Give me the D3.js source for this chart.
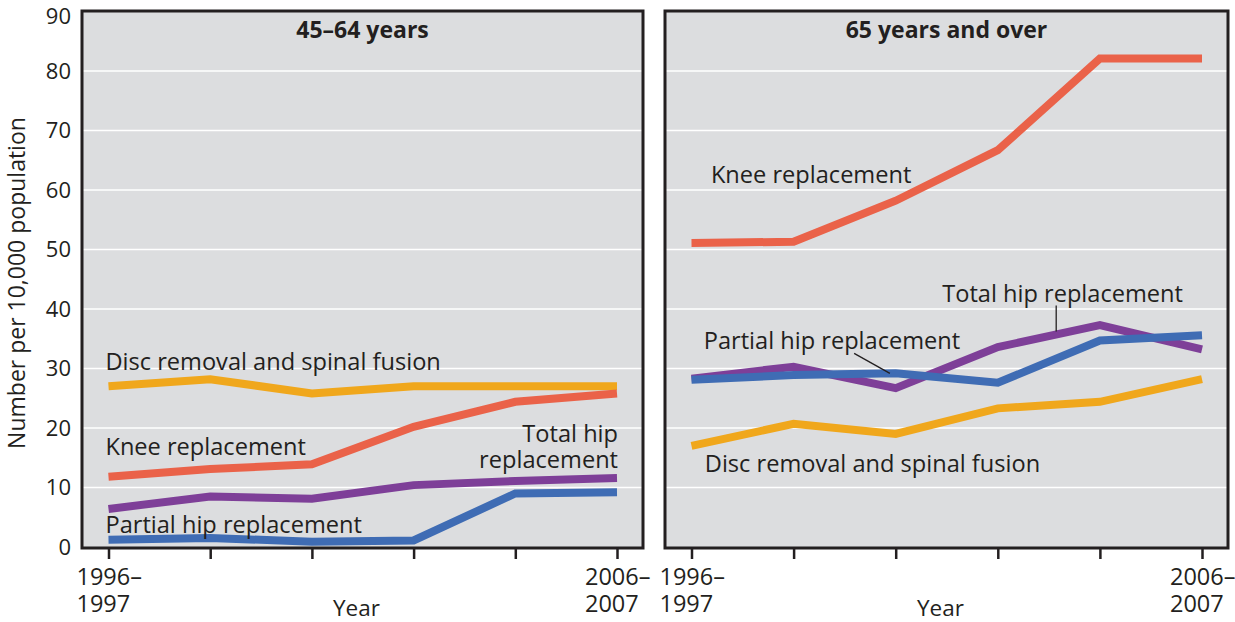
<!DOCTYPE html>
<html>
<head>
<meta charset="utf-8">
<script src="https://cdn.jsdelivr.net/npm/d3@7"></script>
<style>
  body { margin: 0; background: #fff; }
  svg { display: block; font-family: "Open Sans", sans-serif; }
</style>
</head>
<body>
<div id="chart"></div>
<script>
// Zeitraeume (x-Achse)
const periods = ["1996–1997", "", "", "", "", "2006–2007"];
const yTicks = [0, 10, 20, 30, 40, 50, 60, 70, 80, 90];

// 45-64 Jahre
const young_disc    = [27.0, 28.2, 25.8, 27.0, 27.0, 27.0];
const young_knee    = [11.8, 13.1, 13.9, 20.2, 24.4, 25.8];
const young_total   = [6.4, 8.5, 8.1, 10.4, 11.1, 11.6];
const young_partial = [1.2, 1.5, 0.9, 1.1, 9.0, 9.2];

// 65 Jahre und aelter
const old_disc    = [17.0, 20.7, 19.0, 23.3, 24.4, 28.2];
const old_knee    = [51.1, 51.3, 58.2, 66.7, 82.1, 82.1];
const old_total   = [28.3, 30.3, 26.7, 33.6, 37.3, 33.2];
const old_partial = [28.1, 28.9, 29.2, 27.6, 34.7, 35.6];

const colors = {
  disc: "#f0a71c",
  knee: "#ea6249",
  total: "#7e3f98",
  partial: "#3f6cb4"
};

const width = 1235;
const height = 622;

const panels = [
  {
    title: "45–64 years",
    left: 82, right: 643,
    series: [
      {key: "disc", values: young_disc},
      {key: "knee", values: young_knee},
      {key: "total", values: young_total},
      {key: "partial", values: young_partial}
    ],
    // Beschriftungen in Datenkoordinaten (x-Index, Wert)
    labels: [
      {lines: ["Disc removal and spinal fusion"], i: -0.03, v: 29.75, anchor: "start"},
      {lines: ["Knee replacement"], i: -0.03, v: 15.46, anchor: "start"},
      {lines: ["Partial hip replacement"], i: -0.03, v: 2.4, anchor: "start"},
      {lines: ["Total hip", "replacement"], i: 5.01, v: 17.7, anchor: "end"}
    ],
    leaders: []
  },
  {
    title: "65 years and over",
    left: 665, right: 1228,
    series: [
      {key: "disc", values: old_disc},
      {key: "knee", values: old_knee},
      {key: "total", values: old_total},
      {key: "partial", values: old_partial}
    ],
    labels: [
      {lines: ["Knee replacement"], i: 0.19, v: 61.2, anchor: "start"},
      {lines: ["Total hip replacement"], i: 2.456, v: 41.2, anchor: "start"},
      {lines: ["Partial hip replacement"], i: 0.12, v: 33.2, anchor: "start"},
      {lines: ["Disc removal and spinal fusion"], i: 0.13, v: 12.66, anchor: "start"}
    ],
    leaders: [
      [[3.572, 40.6], [3.572, 36.2]],
      [[1.593, 32.55], [1.943, 29.19]]
    ]
  }
];

const frameTop = 11;
const frameBottom = 548;

const y = d3.scaleLinear().domain([0, 90]).range([547, 11.5]);

const svg = d3.select("#chart").append("svg")
    .attr("width", width)
    .attr("height", height)
    .attr("viewBox", [0, 0, width, height]);

panels.forEach((p, pi) => {
  const x = d3.scaleLinear()
      .domain([0, periods.length - 1])
      .range([p.left + 26.5, p.right - 26]);

  const g = svg.append("g");

  g.append("rect")
      .attr("x", p.left)
      .attr("y", frameTop)
      .attr("width", p.right - p.left)
      .attr("height", frameBottom - frameTop)
      .attr("fill", "#dcdddf");

  // Gitterlinien
  g.append("g")
    .selectAll("line")
    .data(yTicks.filter(t => t > 0 && t < 90))
    .join("line")
      .attr("x1", p.left)
      .attr("x2", p.right)
      .attr("y1", d => y(d))
      .attr("y2", d => y(d))
      .attr("stroke", "#fff")
      .attr("stroke-width", 1.3);

  const line = d3.line()
      .x((d, i) => x(i))
      .y(d => y(d));

  g.append("g")
      .attr("fill", "none")
      .attr("stroke-width", 8)
      .attr("stroke-linejoin", "miter")
      .attr("stroke-linecap", "butt")
    .selectAll("path")
    .data(p.series)
    .join("path")
      .attr("stroke", d => colors[d.key])
      .attr("d", d => line(d.values));

  g.append("rect")
      .attr("x", p.left)
      .attr("y", frameTop)
      .attr("width", p.right - p.left)
      .attr("height", frameBottom - frameTop)
      .attr("fill", "none")
      .attr("stroke", "#231f20")
      .attr("stroke-width", 3);

  // x-Achse mit Tickmarken
  g.append("g")
      .attr("transform", `translate(0,${frameBottom})`)
      .call(d3.axisBottom(x).ticks(6).tickSize(11).tickFormat(""))
      .call(a => a.select(".domain").remove())
      .call(a => a.selectAll(".tick line").attr("stroke", "#231f20").attr("stroke-width", 2.5));

  const tickLabels = g.append("g")
      .attr("font-size", 23.5)
      .attr("fill", "#231f20")
    .selectAll("text")
    .data(periods.map((d, i) => [d, i]).filter(([d]) => d))
    .join("text")
      .attr("x", ([, i]) => x(i) - 32)
      .attr("y", 585);
  tickLabels.append("tspan")
      .attr("x", ([, i]) => x(i) - 32)
      .text(([d]) => d.slice(0, 5));
  tickLabels.append("tspan")
      .attr("x", ([, i]) => x(i) - 32)
      .attr("dy", 27)
      .text(([d]) => d.slice(5));

  g.append("text")
      .attr("x", (p.left + p.right) / 2 - 6)
      .attr("y", 616)
      .attr("text-anchor", "middle")
      .attr("font-size", 22.5)
      .attr("fill", "#231f20")
      .text("Year");

  g.append("text")
      .attr("x", (p.left + p.right) / 2)
      .attr("y", 38)
      .attr("text-anchor", "middle")
      .attr("font-size", 23)
      .attr("font-weight", "bold")
      .attr("fill", "#231f20")
      .text(p.title);

  // Serienbeschriftungen
  p.labels.forEach(l => {
    const t = g.append("text")
        .attr("text-anchor", l.anchor)
        .attr("font-size", 23.6)
        .attr("fill", "#231f20");
    l.lines.forEach((s, k) => {
      t.append("tspan")
          .attr("x", x(l.i))
          .attr("y", y(l.v) + k * 26.5)
          .text(s);
    });
  });

  g.append("g")
      .attr("stroke", "#231f20")
      .attr("stroke-width", 1.3)
    .selectAll("line")
    .data(p.leaders)
    .join("line")
      .attr("x1", d => x(d[0][0]))
      .attr("y1", d => y(d[0][1]))
      .attr("x2", d => x(d[1][0]))
      .attr("y2", d => y(d[1][1]));

  if (pi === 0) {
    g.append("g")
        .attr("transform", `translate(${p.left - 7},0)`)
        .call(d3.axisLeft(y).tickValues(yTicks).tickSize(0).tickPadding(4))
        .call(a => a.select(".domain").remove())
        .call(a => a.selectAll(".tick text")
          .attr("font-family", "'Open Sans', sans-serif")
          .attr("font-size", 22)
          .attr("fill", "#231f20"))
        // oberstes Label sitzt etwas tiefer, wie im Original
        .call(a => a.selectAll(".tick").filter(d => d === 90).select("text").attr("dy", "0.32em").attr("y", 5));
  }
});

svg.append("text")
    .attr("transform", "translate(25,283) rotate(-90)")
    .attr("text-anchor", "middle")
    .attr("font-size", 23)
    .attr("fill", "#231f20")
    .text("Number per 10,000 population");
</script>
</body>
</html>
